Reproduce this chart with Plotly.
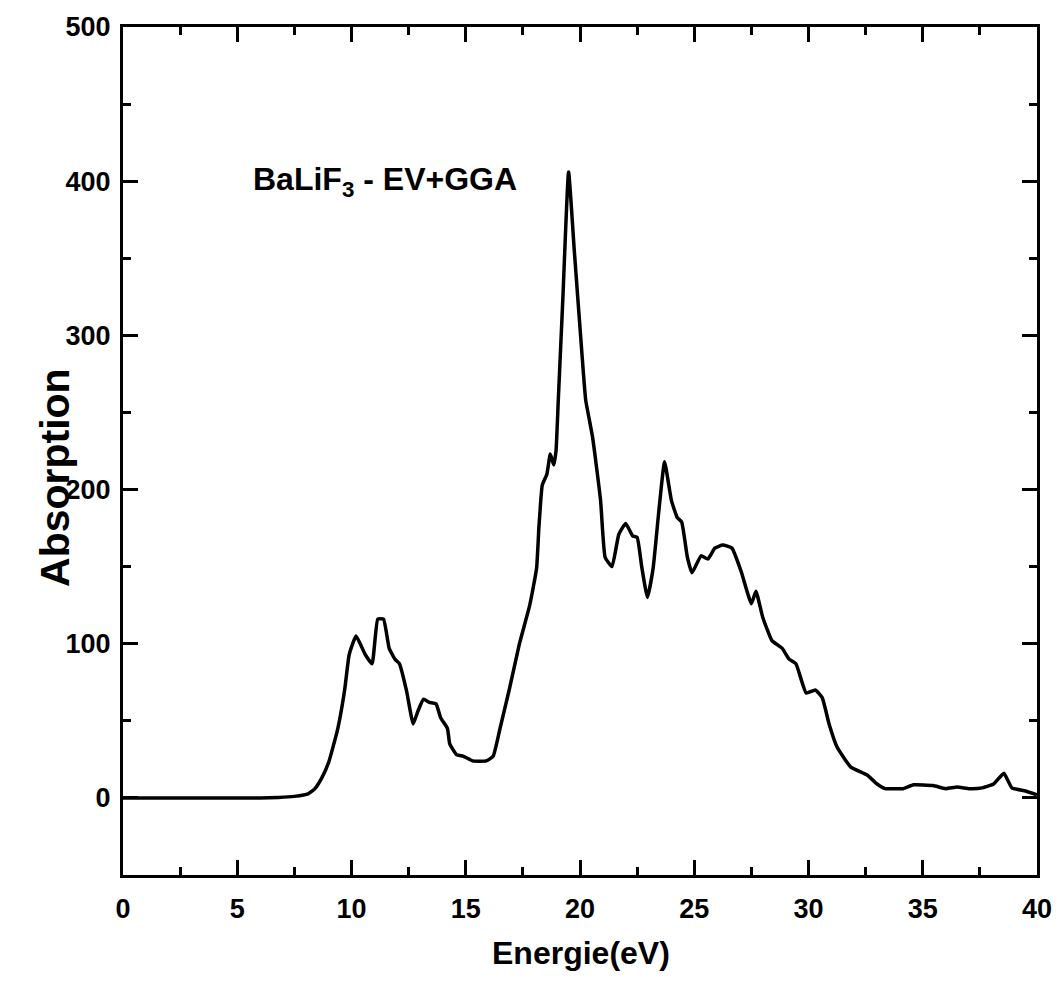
import plotly.graph_objects as go

energy = [0, 2, 4, 6, 6.8, 7.5, 8.1, 8.4, 8.7, 9.0, 9.4, 9.7, 9.9, 10.2, 10.6, 10.9,
          11.15, 11.4, 11.65, 11.9, 12.1, 12.4, 12.7, 12.9, 13.15, 13.4, 13.7, 13.9,
          14.2, 14.3, 14.6, 14.9, 15.3, 15.9, 16.2, 16.5, 16.9, 17.35, 17.8, 18.1,
          18.2, 18.35, 18.55, 18.7, 18.85, 18.95, 19.05, 19.25, 19.5, 19.75, 20.1,
          20.25, 20.55, 20.9, 21.1, 21.4, 21.7, 22.0, 22.3, 22.5, 22.7, 22.95, 23.2,
          23.45, 23.7, 24.0, 24.25, 24.45, 24.7, 24.9, 25.3, 25.6, 25.9, 26.25, 26.65,
          27.05, 27.5, 27.7, 28.0, 28.4, 28.85, 29.15, 29.45, 29.9, 30.3, 30.6, 30.9,
          31.25, 31.85, 32.55, 33.0, 33.35, 33.85, 34.15, 34.6, 35.45, 36.0, 36.5,
          37.05, 37.6, 38.1, 38.55, 38.9, 39.5, 40]
absorption = [0, 0, 0, 0, 0.3, 1, 2.6, 6, 13, 23, 45, 70, 93, 105, 93, 87,
              116, 116, 97, 90, 87, 70, 48, 56, 64, 62, 61, 52,
              45, 35, 28, 27, 24, 24, 27, 45, 70, 100, 125, 149,
              175, 203, 210, 223, 216, 225, 258, 324, 406, 355, 285,
              258, 234, 193, 156, 150, 171, 178, 170, 169, 150, 130, 149,
              186, 218, 193, 182, 179, 156, 146, 157, 155, 162, 164, 162,
              147, 126, 134, 117, 102, 97, 90, 87, 68, 70, 65, 48,
              33, 20, 15, 9, 6, 6, 6, 8.5, 8, 6, 7,
              6, 6.5, 9, 16, 6.5, 4.5, 2]

x_ticks = [0, 5, 10, 15, 20, 25, 30, 35, 40]
y_ticks = [0, 100, 200, 300, 400, 500]

FONT = "Liberation Sans, Arial, sans-serif"

fig = go.Figure()
fig.add_trace(go.Scatter(x=energy, y=absorption, mode="lines",
                         line=dict(color="black", width=3.5, shape="spline", smoothing=0.4),
                         showlegend=False))

axis_common = dict(showline=True, linewidth=3, linecolor="black", mirror="allticks",
                   ticks="inside", ticklen=15, tickwidth=3, tickcolor="black",
                   showgrid=False, zeroline=False,
                   tickfont=dict(family=FONT, size=27, color="black", weight="bold"))

fig.update_xaxes(range=[0, 40], tickvals=x_ticks, ticktext=[str(v) for v in x_ticks],
                 minor=dict(dtick=2.5, tick0=0, ticks="inside", ticklen=8, tickwidth=3,
                            tickcolor="black"),
                 ticklabelstandoff=8, **axis_common)
fig.update_yaxes(range=[-50, 500], tickvals=y_ticks, ticktext=[str(v) for v in y_ticks],
                 minor=dict(dtick=50, tick0=0, ticks="inside", ticklen=8, tickwidth=3,
                            tickcolor="black"),
                 ticklabelstandoff=4, **axis_common)

fig.add_annotation(x=11.45, y=400, xref="x", yref="y",
                   text="BaLiF<sub>3</sub> - EV+GGA", showarrow=False,
                   font=dict(family=FONT, size=32, color="black", weight="bold"))
fig.add_annotation(x=0.501, y=-0.1156, xref="paper", yref="paper",
                   text="Energie(eV)", showarrow=False,
                   font=dict(family=FONT, size=32, color="black", weight="bold"))
fig.add_annotation(x=-0.101, y=0.469, xref="paper", yref="paper",
                   text="Absorption", showarrow=False, textangle=-90,
                   font=dict(family=FONT, size=41, color="black", weight="bold"))

fig.update_layout(width=1064, height=999,
                  margin=dict(l=123, r=19, t=27, b=124),
                  paper_bgcolor="white", plot_bgcolor="white")

fig.write_html("out.html")
